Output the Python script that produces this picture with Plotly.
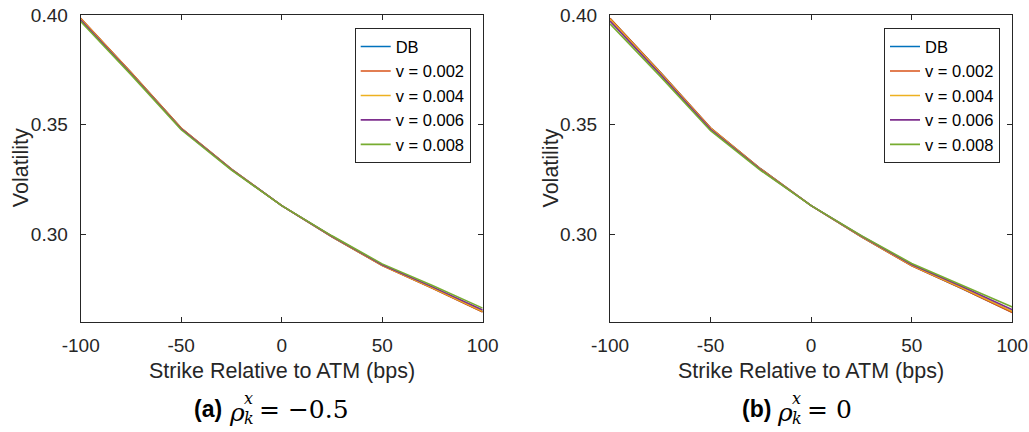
import plotly.graph_objects as go

# ---------------- data ----------------
strike = [-100, -75, -50, -25, 0, 25, 50, 75, 100]
series_names = ["DB", "v = 0.002", "v = 0.004", "v = 0.006", "v = 0.008"]
series_colors = ["#0072BD", "#D95319", "#EDB120", "#7E2F8E", "#77AC30"]

# panel (a): rho = -0.5
db_a = [0.3983, 0.3737, 0.3483, 0.3296, 0.3130, 0.2988, 0.2857, 0.2754, 0.2645]
v002_a = [0.3985, 0.3738, 0.3484, 0.3296, 0.3130, 0.2988, 0.2856, 0.2753, 0.2644]
v004_a = [0.3982, 0.3736, 0.3482, 0.3295, 0.3130, 0.2989, 0.2857, 0.2755, 0.2647]
v006_a = [0.3977, 0.3733, 0.3480, 0.3294, 0.3130, 0.2990, 0.2860, 0.2759, 0.2653]
v008_a = [0.3970, 0.3728, 0.3476, 0.3292, 0.3130, 0.2992, 0.2864, 0.2765, 0.2662]

# panel (b): rho = 0
db_b = [0.3984, 0.3738, 0.3484, 0.3297, 0.3130, 0.2988, 0.2856, 0.2752, 0.2643]
v002_b = [0.3985, 0.3739, 0.3485, 0.3297, 0.3130, 0.2987, 0.2855, 0.2751, 0.2642]
v004_b = [0.3980, 0.3735, 0.3482, 0.3295, 0.3130, 0.2989, 0.2857, 0.2755, 0.2647]
v006_b = [0.3972, 0.3729, 0.3478, 0.3293, 0.3130, 0.2991, 0.2861, 0.2761, 0.2655]
v008_b = [0.3960, 0.3720, 0.3472, 0.3290, 0.3130, 0.2993, 0.2866, 0.2768, 0.2667]

x_ticks = [-100, -50, 0, 50, 100]
x_tick_labels = ["-100", "-50", "0", "50", "100"]
y_ticks = [0.30, 0.35, 0.40]
y_tick_labels = ["0.30", "0.35", "0.40"]

# ---------------- figure ----------------
W, H = 1029, 432
fig = go.Figure()

panels = [
    ([db_a, v002_a, v004_a, v006_a, v008_a], "x", "y", "legend"),
    ([db_b, v002_b, v004_b, v006_b, v008_b], "x2", "y2", "legend2"),
]
for ys, xa, ya, lg in panels:
    for name, col, vals in zip(series_names, series_colors, ys):
        fig.add_trace(go.Scatter(
            x=strike, y=vals, mode="lines", name=name,
            line=dict(color=col, width=1.6),
            xaxis=xa, yaxis=ya, legend=lg, showlegend=True,
        ))

axcol = "#262626"
sans = "Liberation Sans"
serif = "DejaVu Serif"
tickfont = dict(family=sans, size=19, color=axcol)

def px2x(p):
    return p / W

def px2y(p):
    return 1 - p / H

top_px, bot_px = 15, 321.7
dom_y = [px2y(bot_px), px2y(top_px)]
left_dom = [px2x(80.7), px2x(482.7)]
right_dom = [px2x(610), px2x(1012.3)]

common_x = dict(range=[-100, 100], tickvals=x_ticks, ticktext=x_tick_labels,
                ticks="inside", ticklen=5,
                tickcolor=axcol, showline=True, linecolor=axcol, linewidth=1.2,
                mirror="ticks", showgrid=False, zeroline=False, tickfont=tickfont,
                automargin=False, ticklabelstandoff=6)
common_y = dict(range=[0.26, 0.40], tickvals=y_ticks, ticktext=y_tick_labels,
                ticks="inside", ticklen=5, tickcolor=axcol, showline=True, linecolor=axcol,
                linewidth=1.2, mirror="ticks", showgrid=False, zeroline=False, tickfont=tickfont,
                automargin=False, ticklabelstandoff=8)

fig.update_layout(
    width=W, height=H,
    margin=dict(l=0, r=0, t=0, b=0),
    paper_bgcolor="white", plot_bgcolor="white",
    xaxis=dict(domain=left_dom, anchor="y", **common_x),
    yaxis=dict(domain=dom_y, anchor="x", **common_y),
    xaxis2=dict(domain=right_dom, anchor="y2", **common_x),
    yaxis2=dict(domain=dom_y, anchor="x2", **common_y),
    showlegend=True,
)

legend_style = dict(
    font=dict(family=sans, size=16.5, color="black"),
    bgcolor="white", bordercolor=axcol, borderwidth=1,
    xanchor="right", yanchor="top", tracegroupgap=0, itemwidth=30,
)
fig.update_layout(
    legend=dict(x=px2x(470.7), y=px2y(28.3), **legend_style),
    legend2=dict(x=px2x(1000), y=px2y(28.3), **legend_style),
)

annotations = []
for cx_left, cx_right in [(80.7, 482.7), (610, 1012.3)]:
    cx = (cx_left + cx_right) / 2
    annotations.append(dict(text="Strike Relative to ATM (bps)", x=px2x(cx), y=px2y(371),
                            xanchor="center", yanchor="middle",
                            font=dict(family=sans, size=21.5, color=axcol)))
    annotations.append(dict(text="Volatility", x=px2x(cx_left - 59.5), y=px2y(168),
                            xanchor="center", yanchor="middle", textangle=-90,
                            font=dict(family=sans, size=21.5, color=axcol)))

captions = [("(a)", "= \u22120.5", 192), ("(b)", "= 0", 740)]
for lab, rhs, x0 in captions:
    annotations += [
        dict(text="<b>" + lab + "</b>", x=px2x(x0), y=px2y(409), xanchor="left", yanchor="middle",
             font=dict(family=sans, size=23, color="black")),
        dict(text="<i>\u03c1</i>", x=px2x(x0 + 35), y=px2y(412), xanchor="left", yanchor="middle",
             font=dict(family=serif, size=25, color="black")),
        dict(text="<i>x</i>", x=px2x(x0 + 50), y=px2y(398), xanchor="left", yanchor="middle",
             font=dict(family=serif, size=16, color="black")),
        dict(text="<i>k</i>", x=px2x(x0 + 50), y=px2y(418), xanchor="left", yanchor="middle",
             font=dict(family=serif, size=16, color="black")),
        dict(text=rhs, x=px2x(x0 + 65), y=px2y(409), xanchor="left", yanchor="middle",
             font=dict(family=serif, size=25, color="black")),
    ]
for a in annotations:
    a.setdefault("xref", "paper")
    a.setdefault("yref", "paper")
    a.setdefault("showarrow", False)
fig.update_layout(annotations=annotations)

fig.write_html("out.html")
